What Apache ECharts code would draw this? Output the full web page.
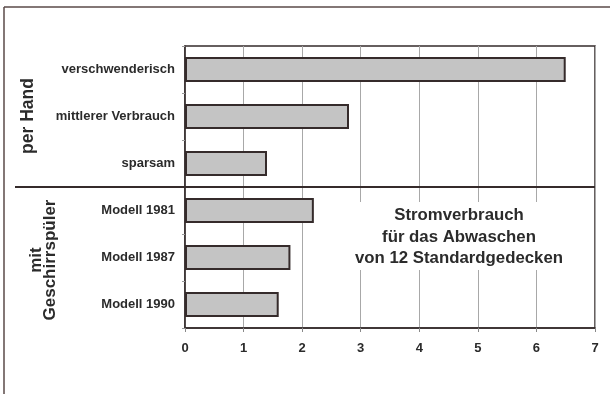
<!DOCTYPE html>
<html>
<head>
<meta charset="utf-8">
<script src="https://cdn.jsdelivr.net/npm/echarts@6/dist/echarts.min.js"></script>
<style>
  html, body { margin: 0; padding: 0; background: #fff; }
  #chart { width: 610px; height: 394px; }
</style>
</head>
<body>
<div id="chart"></div>
<script>
// Electricity use for washing 12 standard place settings (kWh)
const categories = [
  'verschwenderisch',
  'mittlerer Verbrauch',
  'sparsam',
  'Modell 1981',
  'Modell 1987',
  'Modell 1990'
];
const consumption = [6.5, 2.8, 1.4, 2.2, 1.8, 1.6];
const xTicks = [0, 1, 2, 3, 4, 5, 6, 7];
const groupHand = 'per Hand';
const groupMachine = 'mit\nGeschirrspüler';
const noteLines = ['Stromverbrauch', 'für das Abwaschen', 'von 12 Standardgedecken'];

const ink = '#352b2b';
const font = '"Liberation Sans", Arial, Helvetica, sans-serif';

const chart = echarts.init(document.getElementById('chart'), null, { renderer: 'canvas' });

const gridLeft = 185, gridRight = 15, gridTop = 46, gridBottom = 66;

chart.setOption({
  animation: false,
  backgroundColor: '#fff',
  grid: {
    left: gridLeft, right: gridRight, top: gridTop, bottom: gridBottom,
    show: true, borderColor: ink, borderWidth: 1.5, backgroundColor: 'transparent'
  },
  xAxis: {
    type: 'value',
    min: xTicks[0],
    max: xTicks[xTicks.length - 1],
    interval: 1,
    axisLine: { show: true, lineStyle: { color: ink, width: 1.5 } },
    axisTick: { show: true, length: 4, lineStyle: { color: '#888', width: 1 } },
    axisLabel: {
      margin: 14, color: '#2b2b2b', fontFamily: font, fontWeight: 'bold', fontSize: 13
    },
    splitLine: { show: true, lineStyle: { color: '#a8a8a8', width: 1 } }
  },
  yAxis: {
    type: 'category',
    data: categories,
    inverse: true,
    axisLine: { show: true, lineStyle: { color: ink, width: 1.5 } },
    axisTick: { show: true, length: 3, lineStyle: { color: '#999' } },
    axisLabel: {
      margin: 10, color: '#2b2b2b', fontFamily: font, fontWeight: 'bold', fontSize: 13
    },
    splitLine: { show: false }
  },
  series: [{
    type: 'bar',
    data: consumption,
    barWidth: '53%',
    itemStyle: { color: '#c4c4c4', borderColor: ink, borderWidth: 2 },
    silent: true
  }],
  graphic: [
    // outer frame (top and left edges)
    { type: 'line', shape: { x1: 4, y1: 7, x2: 610, y2: 7 }, style: { stroke: '#5a4a48', lineWidth: 1.5 } },
    { type: 'line', shape: { x1: 4, y1: 7, x2: 4, y2: 394 }, style: { stroke: '#5a4a48', lineWidth: 1.5 } },
    // divider between the two groups
    { type: 'line', shape: { x1: 15, y1: 187, x2: 595, y2: 187 }, style: { stroke: ink, lineWidth: 2 }, z: 10 },
    // group labels
    {
      type: 'text', x: 28, y: 116, rotation: Math.PI / 2,
      style: { text: groupHand, font: 'bold 17.5px ' + font, fill: '#2b2b2b', align: 'center', verticalAlign: 'middle' }
    },
    {
      type: 'text', x: 43, y: 260, rotation: Math.PI / 2,
      style: { text: groupMachine, font: 'bold 17px ' + font, fill: '#2b2b2b', align: 'center', verticalAlign: 'middle', lineHeight: 14 }
    },
    // note box
    { type: 'rect', shape: { x: 345, y: 202, width: 234, height: 68 }, style: { fill: '#fff' }, z: 5 },
    {
      type: 'text', x: 459, y: 237, z: 6,
      style: {
        text: noteLines.join('\n'), font: 'bold 16.8px ' + font, fill: '#2b2b2b',
        align: 'center', verticalAlign: 'middle', lineHeight: 21.5
      }
    }
  ]
});
</script>
</body>
</html>
